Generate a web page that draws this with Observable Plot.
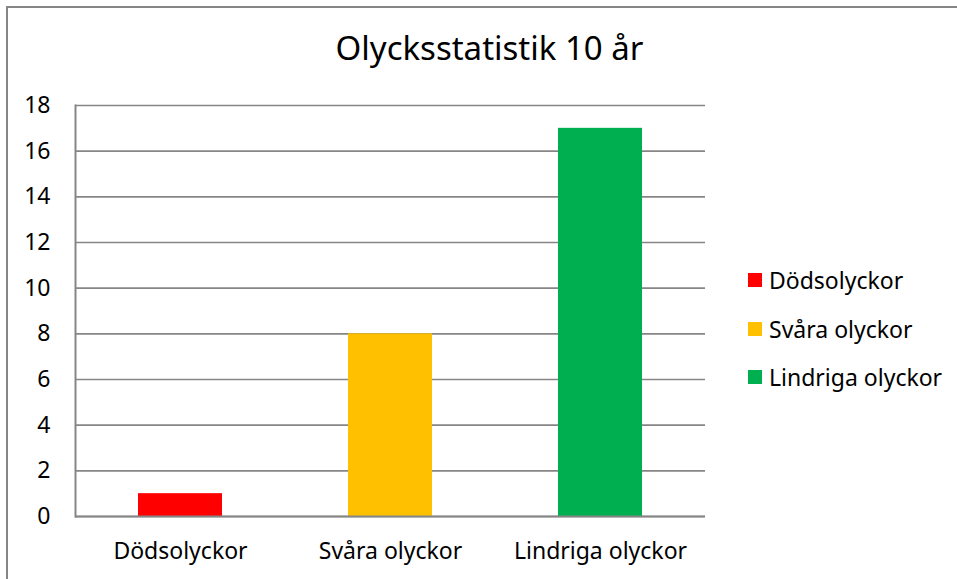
<!DOCTYPE html>
<html>
<head>
<meta charset="utf-8">
<script src="https://cdn.jsdelivr.net/npm/d3@7"></script>
<script src="https://cdn.jsdelivr.net/npm/@observablehq/plot@0.6"></script>
<style>
  html, body { margin: 0; padding: 0; background: #fff; overflow: hidden; }
  #wrap { position: relative; width: 957px; height: 579px; font-family: "Noto Sans", sans-serif; color: #000; }
  #border { position: absolute; left: 6px; top: 6px; width: 980px; height: 600px; border: 2px solid #868686; box-sizing: border-box; }
  #chart { position: absolute; left: 0; top: 0; }
  #title { position: absolute; left: 0; width: 979px; top: 26px; text-align: center; font-size: 33px; line-height: 44px; }
  #legend { position: absolute; left: 748px; top: 256px; font-size: 23px; }
  .item { display: flex; align-items: center; height: 48.5px; }
  .sw { width: 14px; height: 14px; margin-right: 7px; }
</style>
</head>
<body>
<div id="wrap">
  <div id="border"></div>
  <div id="chart"></div>
  <div id="title">Olycksstatistik 10 år</div>
  <div id="legend"></div>
</div>
<script>
const categories = ["Dödsolyckor", "Svåra olyckor", "Lindriga olyckor"];
const values = [1, 8, 17];
const colors = ["#FF0000", "#FFC000", "#00B050"];
const yTicks = [0, 2, 4, 6, 8, 10, 12, 14, 16, 18];

const data = categories.map((c, i) => ({category: c, value: values[i], color: colors[i]}));

const chart = Plot.plot({
  width: 957,
  height: 579,
  marginLeft: 75,
  marginRight: 252,
  marginTop: 105,
  marginBottom: 63,
  style: {fontFamily: "Noto Sans, sans-serif", fontSize: "23px", color: "#000", background: "transparent"},
  x: {domain: categories, paddingInner: 0.6, paddingOuter: 0.3, label: null},
  y: {domain: [0, 18], label: null},
  marks: [
    Plot.gridY(yTicks, {stroke: "#868686", strokeOpacity: 1, strokeWidth: 1.7}),
    Plot.barY(data, {x: "category", y: "value", fill: "color"}),
    Plot.ruleY([0], {stroke: "#868686", strokeWidth: 2}),
    Plot.frame({anchor: "left", stroke: "#868686", strokeWidth: 2}),
    Plot.axisY(yTicks, {tickSize: 0, tickPadding: 25, fontSize: 23, label: null, fill: "#000"}),
    Plot.axisX({tickSize: 0, tickPadding: 26, fontSize: 23, label: null, fill: "#000"})
  ]
});
document.getElementById("chart").appendChild(chart);

const legend = document.getElementById("legend");
categories.forEach((c, i) => {
  const it = document.createElement("div");
  it.className = "item";
  const sw = document.createElement("div");
  sw.className = "sw";
  sw.style.background = colors[i];
  const t = document.createElement("span");
  t.textContent = c;
  it.appendChild(sw); it.appendChild(t);
  legend.appendChild(it);
});
</script>
</body>
</html>
